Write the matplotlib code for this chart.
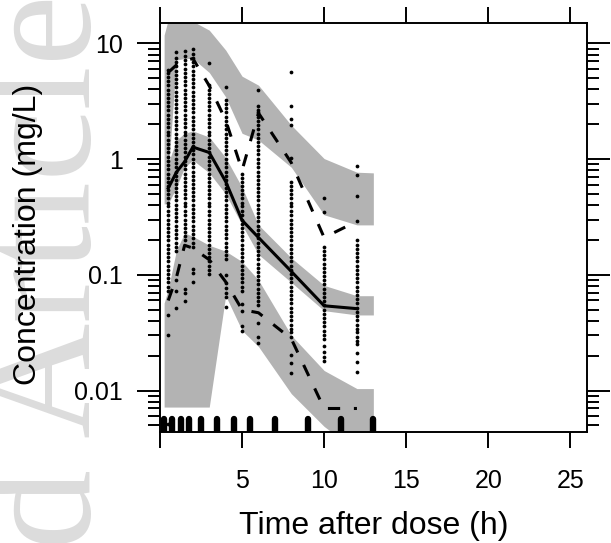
import matplotlib
matplotlib.use('Agg')
import matplotlib.pyplot as plt
from matplotlib.ticker import LogLocator, NullFormatter, FixedLocator, FixedFormatter

# bins of the VPC
bin_times = [0.5, 1, 1.5, 2, 3, 4, 5, 6, 8, 10, 12]
band_times = [0.25, 0.5, 1, 1.5, 2, 3, 4, 5, 6, 8, 10, 12, 13]
bin_edges = [0.25, 0.75, 1.25, 1.75, 2.5, 3.5, 4.5, 5.5, 7, 9, 11, 13]

# observed percentiles
obs_p95 = [5.6, 6.5, 7.0, 7.4, 4.3, 2.17, 0.80, 2.5, 0.93, 0.21, 0.29]
obs_p50 = [0.56, 0.77, 0.95, 1.27, 1.14, 0.64, 0.296, 0.21, 0.107, 0.054, 0.051]
obs_p05 = [0.060, 0.095, 0.18, 0.17, 0.135, 0.087, 0.050, 0.047, 0.028, 0.0070, 0.0070]

# simulated prediction intervals (shaded)
pi95_hi = [11.8, 16, 17, 17, 15.5, 13, 8.75, 5.2, 4.35, 1.96, 1.01, 0.77, 0.76]
pi95_lo = [0.85, 0.75, 7.2, 7.4, 7.4, 5.6, 3.45, 1.67, 1.46, 0.85, 0.33, 0.27, 0.27]
pi50_hi = [0.85, 0.92, 1.46, 1.67, 1.75, 1.55, 1.03, 0.57, 0.27, 0.14, 0.081, 0.066, 0.066]
pi50_lo = [0.41, 0.41, 0.57, 0.85, 0.98, 0.76, 0.50, 0.27, 0.15, 0.086, 0.049, 0.045, 0.045]
pi05_hi = [0.057, 0.075, 0.163, 0.23, 0.215, 0.18, 0.16, 0.13, 0.09, 0.03, 0.0149, 0.0104, 0.0104]
pi05_lo = [0.0072, 0.0072, 0.0072, 0.0072, 0.0072, 0.0072, 0.066, 0.033, 0.024, 0.0094, 0.0049, 0.003, 0.003]

# observed concentrations per nominal time
conc_t05 = [5.9, 5.58, 5.13, 4.72, 4.34, 3.99, 3.67, 3.38, 3.11, 2.86, 2.63, 2.42, 2.23, 2.05,
            1.89, 1.73, 1.60, 1.47, 1.35, 1.24, 1.14, 1.05, 0.97, 0.89, 0.82, 0.75, 0.69, 0.64,
            0.59, 0.54, 0.50, 0.46, 0.42, 0.39, 0.355, 0.327, 0.30, 0.277, 0.255, 0.234, 0.215,
            0.198, 0.182, 0.168, 0.154, 0.142, 0.131, 0.120, 0.110, 0.102, 0.094, 0.086, 0.079,
            0.073, 0.045, 0.030, 0.0051]
conc_t1 = [8.5, 7.47, 6.87, 6.32, 5.82, 5.35, 4.92, 4.53, 4.17, 3.83, 3.53, 3.25, 2.99, 2.75,
           2.53, 2.32, 2.14, 1.97, 1.81, 1.66, 1.53, 1.41, 1.29, 1.19, 1.10, 1.01, 0.93, 0.85,
           0.78, 0.72, 0.665, 0.61, 0.56, 0.52, 0.48, 0.44, 0.405, 0.37, 0.34, 0.315, 0.29,
           0.265, 0.245, 0.225, 0.207, 0.19, 0.175, 0.161, 0.09, 0.073, 0.052]
conc_t15 = [8.6, 7.79, 7.16, 6.59, 6.06, 5.58, 5.13, 4.72, 4.34, 3.99, 3.67, 3.38, 3.11, 2.86,
            2.63, 2.42, 2.23, 2.05, 1.89, 1.73, 1.60, 1.47, 1.35, 1.24, 1.14, 1.05, 0.97, 0.89,
            0.82, 0.75, 0.69, 0.64, 0.59, 0.54, 0.50, 0.46, 0.42, 0.39, 0.355, 0.327, 0.30,
            0.277, 0.255, 0.234, 0.215, 0.198, 0.076, 0.07, 0.059]
conc_t2 = [8.9, 8.12, 7.47, 6.87, 6.32, 5.82, 5.35, 4.92, 4.53, 4.17, 3.83, 3.53, 3.25, 2.99,
           2.75, 2.53, 2.32, 2.14, 1.97, 1.81, 1.66, 1.53, 1.41, 1.29, 1.19, 1.10, 1.01, 0.93,
           0.85, 0.78, 0.72, 0.665, 0.61, 0.56, 0.52, 0.48, 0.44, 0.405, 0.37, 0.34, 0.315,
           0.29, 0.265, 0.245, 0.225, 0.207, 0.19, 0.175, 0.113, 0.103, 0.086]
conc_t3 = [6.8, 4.34, 3.99, 3.67, 3.38, 3.11, 2.86, 2.63, 2.42, 2.23, 2.05, 1.89, 1.73, 1.60,
           1.47, 1.35, 1.24, 1.14, 1.05, 0.97, 0.89, 0.82, 0.75, 0.69, 0.64, 0.59, 0.54, 0.50,
           0.46, 0.42, 0.39, 0.355, 0.327, 0.30, 0.277, 0.255, 0.234, 0.215, 0.198, 0.182,
           0.168, 0.154, 0.142, 0.131, 0.120, 0.110, 0.102]
conc_t4 = [4.2, 3.25, 2.99, 2.75, 2.53, 2.32, 2.14, 1.97, 1.81, 1.66, 1.53, 1.41, 1.29, 1.19,
           1.10, 1.01, 0.93, 0.85, 0.78, 0.72, 0.665, 0.61, 0.56, 0.52, 0.48, 0.44, 0.405, 0.37,
           0.34, 0.315, 0.29, 0.265, 0.245, 0.225, 0.207, 0.19, 0.175, 0.161, 0.148, 0.136,
           0.1, 0.085, 0.077, 0.07, 0.064, 0.053]
conc_t5 = [0.75, 0.69, 0.64, 0.59, 0.54, 0.50, 0.46, 0.42, 0.39, 0.355, 0.327, 0.30, 0.277,
           0.255, 0.234, 0.215, 0.198, 0.182, 0.168, 0.154, 0.142, 0.131, 0.120, 0.110, 0.102,
           0.094, 0.086, 0.079, 0.073, 0.056, 0.049, 0.036, 0.033]
conc_t6 = [3.95, 2.9, 2.65, 2.53, 2.32, 2.14, 1.97, 1.81, 1.66, 1.53, 1.41, 1.29, 1.19, 1.10,
           1.01, 0.93, 0.85, 0.78, 0.72, 0.665, 0.61, 0.56, 0.52, 0.48, 0.44, 0.405, 0.37, 0.34,
           0.315, 0.29, 0.265, 0.245, 0.225, 0.207, 0.19, 0.175, 0.161, 0.148, 0.136, 0.125,
           0.115, 0.106, 0.098, 0.09, 0.083, 0.076, 0.07, 0.064, 0.059, 0.055, 0.038, 0.029,
           0.026]
conc_t8 = [5.6, 2.9, 2.2, 1.96, 1.02, 0.64, 0.59, 0.54, 0.50, 0.46, 0.42, 0.39, 0.355, 0.327,
           0.30, 0.277, 0.255, 0.234, 0.215, 0.198, 0.182, 0.168, 0.154, 0.142, 0.131, 0.120,
           0.110, 0.102, 0.094, 0.086, 0.079, 0.073, 0.067, 0.062, 0.057, 0.052, 0.048, 0.044,
           0.041, 0.037, 0.034, 0.032, 0.029, 0.0202, 0.0172, 0.0142]
conc_t10 = [0.46, 0.35, 0.175, 0.161, 0.148, 0.136, 0.125, 0.115, 0.106, 0.098, 0.09, 0.083,
            0.076, 0.07, 0.064, 0.059, 0.055, 0.05, 0.046, 0.042, 0.039, 0.036, 0.033, 0.03,
            0.028, 0.0245, 0.0215, 0.0195, 0.018]
conc_t12 = [0.87, 0.73, 0.48, 0.29, 0.198, 0.182, 0.168, 0.154, 0.142, 0.131, 0.120, 0.110,
            0.102, 0.094, 0.086, 0.079, 0.073, 0.067, 0.062, 0.057, 0.052, 0.048, 0.044, 0.041,
            0.037, 0.034, 0.032, 0.029, 0.027, 0.025, 0.021, 0.0175, 0.0145]
obs_conc = [conc_t05, conc_t1, conc_t15, conc_t2, conc_t3, conc_t4, conc_t5, conc_t6,
            conc_t8, conc_t10, conc_t12]

xtick_vals = [0, 5, 10, 15, 20, 25]
xtick_labels = ['', '5', '10', '15', '20', '25']
ytick_vals = [0.01, 0.1, 1, 10]
ytick_labels = ['0.01', '0.1', '1', '10']

plt.rcParams['font.family'] = ['Liberation Sans', 'DejaVu Sans']
band_col = '#b3b3b3'
dash = (0, (4, 4.5))

fig = plt.figure(figsize=(6.11, 5.43), dpi=100)
ax = fig.add_axes([0.2619, 0.2039, 0.6983, 0.7532])

# watermark in the left margin
fig.text(90 / 611, 549 / 543, 'Accepted Article', rotation=90, rotation_mode='anchor',
         ha='right', va='baseline', fontsize=115, family='Liberation Serif',
         color='#dcdcdc', zorder=-1)

for lo, hi in [(pi95_lo, pi95_hi), (pi50_lo, pi50_hi), (pi05_lo, pi05_hi)]:
    ax.fill_between(band_times, lo, hi, color=band_col, lw=0, zorder=1)

for t, vals in zip(bin_times, obs_conc):
    ax.plot([t] * len(vals), vals, 'o', color='black', ms=2.7, mew=0, zorder=2)

ax.plot(bin_times, obs_p50, color='black', lw=2.2, zorder=3)
ax.plot(bin_times, obs_p95, color='black', lw=2.2, ls=dash, zorder=3)
ax.plot(bin_times, obs_p05, color='black', lw=2.2, ls=dash, zorder=3)

# rug of bin boundaries
ax.vlines(bin_edges, 0, 0.032, transform=ax.get_xaxis_transform(), color='black',
          lw=4.6, capstyle='round', zorder=4)

ax.set_yscale('log')
ax.set_xlim(0, 26)
ax.set_ylim(0.00436, 14.9)

ax.xaxis.set_major_locator(FixedLocator(xtick_vals))
ax.xaxis.set_major_formatter(FixedFormatter(xtick_labels))
ax.yaxis.set_major_locator(FixedLocator(ytick_vals))
ax.yaxis.set_major_formatter(FixedFormatter(ytick_labels))
ax.yaxis.set_minor_locator(LogLocator(base=10, subs=range(2, 10)))
ax.yaxis.set_minor_formatter(NullFormatter())

ax.tick_params(axis='x', which='major', direction='out', length=11.5, width=1.4,
               top=True, labelsize=18, pad=15)
ax.tick_params(axis='y', which='major', direction='out', length=16.5, width=1.4,
               right=True, labelsize=18, pad=10)
ax.tick_params(axis='y', which='minor', direction='out', length=8.5, width=1.4, right=True)
for s in ax.spines.values():
    s.set_linewidth(1.4)

ax.set_xlabel('Time after dose (h)', fontsize=23)
ax.set_ylabel('Concentration (mg/L)', fontsize=23)
ax.xaxis.label.set_va('center')
ax.yaxis.label.set_va('center')
ax.xaxis.set_label_coords(0.5, -(526 - 432.3) / 409)
ax.yaxis.set_label_coords((28 - 160) / 426.7, 0.485)

fig.savefig('out.png', dpi=100, facecolor='white')
